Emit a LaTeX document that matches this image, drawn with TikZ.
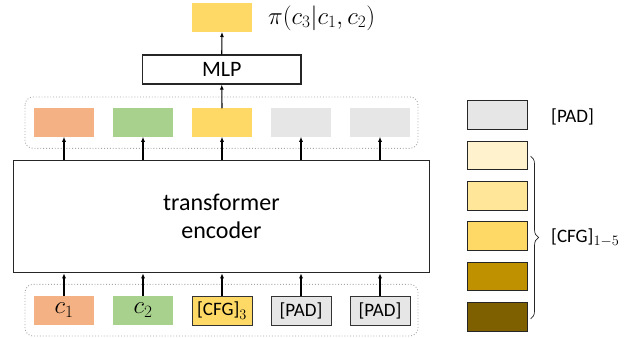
\documentclass[tikz,border=0pt]{standalone}
\usepackage{fontspec}
\setmainfont{Carlito}
\usetikzlibrary{arrows.meta,decorations.pathreplacing}
\definecolor{corange}{HTML}{F4B183}
\definecolor{cgreen}{HTML}{A9D18E}
\definecolor{cyellow}{HTML}{FFD966}
\definecolor{cgray}{HTML}{E7E6E6}
\definecolor{cy1}{HTML}{FFF2CC}
\definecolor{cy2}{HTML}{FFE699}
\definecolor{cy4}{HTML}{BF9000}
\definecolor{cy5}{HTML}{7F6000}
\definecolor{cdot}{HTML}{A6A6A6}
\begin{document}
\begin{tikzpicture}[x=1pt,y=-1pt,
  tok/.style={minimum width=60pt,minimum height=29pt,inner sep=0pt,outer sep=0pt,
    font=\fontsize{19}{22}\selectfont},
  tokb/.style={tok,draw=black!80,line width=0.9pt},
  leg/.style={minimum width=60pt,minimum height=28.5pt,inner sep=0pt,draw=black!85,line width=0.9pt},
  group/.style={draw=cdot,dotted,line width=0.9pt,rounded corners=8pt},
  blk/.style={draw=black!85,line width=1.2pt,inner sep=0pt},
  arr/.style={-{Latex[length=5pt,width=4pt]},line width=1.1pt},
  lab/.style={anchor=west,inner sep=0pt,font=\fontsize{19}{22}\selectfont}]
\useasboundingbox (0,0) rectangle (639,337);
% groups
\draw[group] (25,97) rectangle (418,148.3);
\draw[group] (25,284.3) rectangle (418,336);
% output
\node[tok,fill=cyellow] (out) at (222,17.5) {};
\node[anchor=west,inner sep=0pt,font=\fontsize{23}{26}\selectfont] (pi) at (268,18) {$\pi(c_3|c_1,c_2)$};
\node[blk,minimum width=158.5pt,minimum height=29pt,font=\fontsize{22}{26}\selectfont] (mlp) at (221.75,69.5) {MLP};
% hidden tokens
\node[tok,minimum height=28.5pt,fill=corange] (h1) at (64,122.5) {};
\node[tok,minimum height=28.5pt,fill=cgreen] (h2) at (143,122.5) {};
\node[tok,minimum height=28.5pt,fill=cyellow] (h3) at (222,122.5) {};
\node[tok,minimum height=28.5pt,fill=cgray] (h4) at (301,122.5) {};
\node[tok,minimum height=28.5pt,fill=cgray] (h5) at (380,122.5) {};
% encoder
\node[blk,minimum width=415.8pt,minimum height=112.4pt,align=center,
  font=\fontsize{24}{28}\selectfont] (enc) at (221.4,216.5) {transformer\\encoder};
% input tokens
\node[tok,fill=corange,font=\fontsize{25}{28}\selectfont] (i1) at (64,310.5) {$c_1$};
\node[tok,fill=cgreen,font=\fontsize{25}{28}\selectfont] (i2) at (143,310.5) {$c_2$};
\node[tokb,fill=cyellow] (i3) at (222,310.5) {[CFG]$_3$};
\node[tokb,fill=cgray] (i4) at (301,310.5) {[PAD]};
\node[tokb,fill=cgray] (i5) at (380,310.5) {[PAD]};
% arrows
\draw[arr] (mlp.north) -- (out.south);
\draw[arr] (h3.north) -- (mlp.south);
\foreach \i in {1,...,5}{
  \draw[arr] (i\i.north) -- (i\i.north |- enc.south);
  \draw[arr] (h\i.south |- enc.north) -- (h\i.south);
}
% legend
\node[leg,fill=cgray] (lpad) at (497,115) {};
\node[lab] (tpad) at (551,117) {[PAD]};
\node[leg,fill=cy1] (l1) at (497,155.2) {};
\node[leg,fill=cy2] (l2) at (497,195.7) {};
\node[leg,fill=cyellow] (l3) at (497,236) {};
\node[leg,fill=cy4] (l4) at (497,276.6) {};
\node[leg,fill=cy5] (l5) at (497,317) {};
\coordinate (b1) at (530.5,156);
\coordinate (b2) at (530.5,319);
\draw[decorate,decoration={brace,amplitude=8pt},line width=0.7pt,black!85] (b1) -- (b2);
\node[lab] (tcfg) at (551,238) {[CFG]$_{1-5}$};
\end{tikzpicture}
\end{document}
